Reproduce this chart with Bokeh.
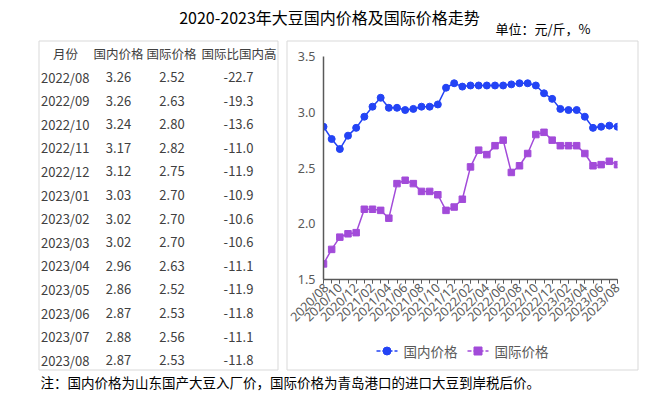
import math
from bokeh.plotting import figure
from bokeh.models import (ColumnDataSource, Range1d, FixedTicker, PrintfTickFormatter)
from bokeh.embed import file_html
from bokeh.resources import INLINE
from bokeh.core.properties import value

FONT = "Noto Sans CJK SC"
NUM_FONT = "Noto Sans"
BLUE = "#2343f5"
PURPLE = "#a24bd9"

# ---------------- data ----------------
title_text = "2020-2023年大豆国内价格及国际价格走势"
unit_text = "单位：元/斤，%"
note_text = "注：国内价格为山东国产大豆入厂价，国际价格为青岛港口的进口大豆到岸税后价。"
series_names = ["国内价格", "国际价格"]

table_headers = ["月份", "国内价格", "国际价格", "国际比国内高"]
table_months = ["2022/08", "2022/09", "2022/10", "2022/11", "2022/12", "2023/01", "2023/02",
                "2023/03", "2023/04", "2023/05", "2023/06", "2023/07", "2023/08"]
table_domestic = [3.26, 3.26, 3.24, 3.17, 3.12, 3.03, 3.02, 3.02, 2.96, 2.86, 2.87, 2.88, 2.87]
table_intl = [2.52, 2.63, 2.80, 2.82, 2.75, 2.70, 2.70, 2.70, 2.63, 2.52, 2.53, 2.56, 2.53]
table_diff = [-22.7, -19.3, -13.6, -11.0, -11.9, -10.9, -10.6, -10.6, -11.1, -11.9, -11.8, -11.1, -11.8]

months = ["2020/08", "2020/09", "2020/10", "2020/11", "2020/12",
          "2021/01", "2021/02", "2021/03", "2021/04", "2021/05", "2021/06",
          "2021/07", "2021/08", "2021/09", "2021/10", "2021/11", "2021/12",
          "2022/01", "2022/02", "2022/03", "2022/04", "2022/05", "2022/06",
          "2022/07", "2022/08", "2022/09", "2022/10", "2022/11", "2022/12",
          "2023/01", "2023/02", "2023/03", "2023/04", "2023/05", "2023/06",
          "2023/07", "2023/08"]
domestic = [2.87, 2.76, 2.67, 2.79, 2.86, 2.96, 3.05, 3.13, 3.04, 3.04, 3.02, 3.03, 3.05,
            3.05, 3.07, 3.22, 3.26, 3.23, 3.24, 3.24, 3.24, 3.24, 3.24, 3.25, 3.26, 3.26,
            3.24, 3.17, 3.12, 3.03, 3.02, 3.02, 2.96, 2.86, 2.87, 2.88, 2.87]
international = [1.64, 1.77, 1.88, 1.91, 1.92, 2.13, 2.13, 2.12, 2.05, 2.36, 2.39, 2.36, 2.29,
                 2.29, 2.26, 2.12, 2.15, 2.22, 2.51, 2.66, 2.62, 2.70, 2.75, 2.46, 2.52, 2.63,
                 2.80, 2.82, 2.75, 2.70, 2.70, 2.70, 2.63, 2.52, 2.53, 2.56, 2.53]
y_ticks = [1.5, 2.0, 2.5, 3.0, 3.5]

# ---------------- background page: title, table, note, boxes, legend key ----------------
PW, PH = 667, 396
bg = figure(width=PW, height=PH, x_range=Range1d(0, PW), y_range=Range1d(PH, 0),
            output_backend="svg", toolbar_location=None, min_border=0,
            x_axis_location=None, y_axis_location=None)
bg.grid.visible = False
bg.outline_line_color = None

bg.quad(left=[38.5, 286.5], right=[277.5, 637.5], top=[40.5, 40.5], bottom=[369.5, 369.5],
        fill_color=None, line_color="#d9d9d9", line_width=1)

bg.text(x=[329], y=[16], text=[title_text], text_font=value(FONT), text_font_size="16px",
        text_align="center", text_baseline="middle", text_color="#000000")
bg.text(x=[590], y=[27.5], text=[unit_text], text_font=value(FONT), text_font_size="13px",
        text_align="right", text_baseline="middle", text_color="#000000")
bg.text(x=[40], y=[381], text=[note_text], text_font=value(FONT), text_font_size="13.5px",
        text_align="left", text_baseline="middle", text_color="#000000")

bg.text(x=[65, 118, 171, 238.5], y=[53] * 4, text=table_headers, text_font=value(FONT),
        text_font_size="12.5px", text_align="center", text_baseline="middle",
        text_color="#404040")
row_y = [76.5 + 23.6 * i for i in range(len(table_months))]
tsrc = ColumnDataSource(dict(
    y=row_y, m=table_months,
    d=["%.2f" % v for v in table_domestic],
    n=["%.2f" % v for v in table_intl],
    f=["%.1f" % v for v in table_diff]))
for col, cx, align in (("m", 40.5, "left"), ("d", 118, "center"), ("n", 171.5, "center"),
                       ("f", 238, "center")):
    bg.text(x=cx, y="y", text=col, source=tsrc, text_font=value(FONT), text_font_size="13px",
            text_align=align, text_baseline="middle", text_color="#404040")

# legend key (below the chart's axis labels)
LEG_Y = 350.5
for x0, color, marker, name in ((376, BLUE, "circle", series_names[0]),
                                (467, PURPLE, "square", series_names[1])):
    bg.segment(x0=[x0], y0=[LEG_Y], x1=[x0 + 21], y1=[LEG_Y], line_color=color,
               line_width=1.5, line_dash="4 2")
    bg.scatter(x=[x0 + 10.5], y=[LEG_Y], marker=marker, size=8, color=color)
    bg.text(x=[x0 + 27], y=[LEG_Y], text=[name], text_font=value(FONT),
            text_font_size="13.5px", text_align="left", text_baseline="middle",
            text_color="#595959")

# ---------------- line chart, placed over the right-hand box ----------------
ch = figure(width=352, height=330, x_range=Range1d(0, len(months) - 1), y_range=Range1d(1.5, 3.5),
            output_backend="svg", toolbar_location=None,
            min_border_left=37, min_border_right=21, min_border_top=16, min_border_bottom=91,
            background_fill_color=None, border_fill_color=None,
            styles={"position": "absolute", "left": "286px", "top": "40px"})
ch.grid.visible = False
ch.outline_line_color = None

xa = ch.xaxis[0]
xa.ticker = FixedTicker(ticks=list(range(0, len(months), 2)), minor_ticks=list(range(len(months))))
xa.major_label_overrides = {i: months[i] for i in range(0, len(months), 2)}
xa.major_label_orientation = math.pi / 4
xa.major_label_text_font = NUM_FONT
xa.major_label_text_font_size = "12.5px"
xa.major_label_text_color = "#595959"
xa.axis_line_color = "#595959"
xa.axis_line_width = 1.5
xa.major_tick_in = 0
xa.major_tick_out = 4
xa.minor_tick_in = 0
xa.minor_tick_out = 4
xa.major_tick_line_color = "#595959"
xa.minor_tick_line_color = "#595959"
xa.major_label_standoff = 2

ya = ch.yaxis[0]
ya.ticker = FixedTicker(ticks=y_ticks)
ya.formatter = PrintfTickFormatter(format="%.1f")
ya.major_label_text_font = NUM_FONT
ya.major_label_text_font_size = "12.5px"
ya.major_label_text_color = "#595959"
ya.axis_line_color = "#595959"
ya.axis_line_width = 1.5
ya.major_tick_in = 0
ya.major_tick_out = 0
ya.minor_tick_line_color = None
ya.major_label_standoff = 8

src = ColumnDataSource(dict(i=list(range(len(months))), dom=domestic, intl=international))
ch.line("i", "dom", source=src, line_color=BLUE, line_width=1.5)
ch.scatter("i", "dom", source=src, marker="circle", size=7, color=BLUE)
ch.line("i", "intl", source=src, line_color=PURPLE, line_width=1.5)
ch.scatter("i", "intl", source=src, marker="square", size=6.5, color=PURPLE)

open("out.html", "w").write(file_html((bg, ch), INLINE))
